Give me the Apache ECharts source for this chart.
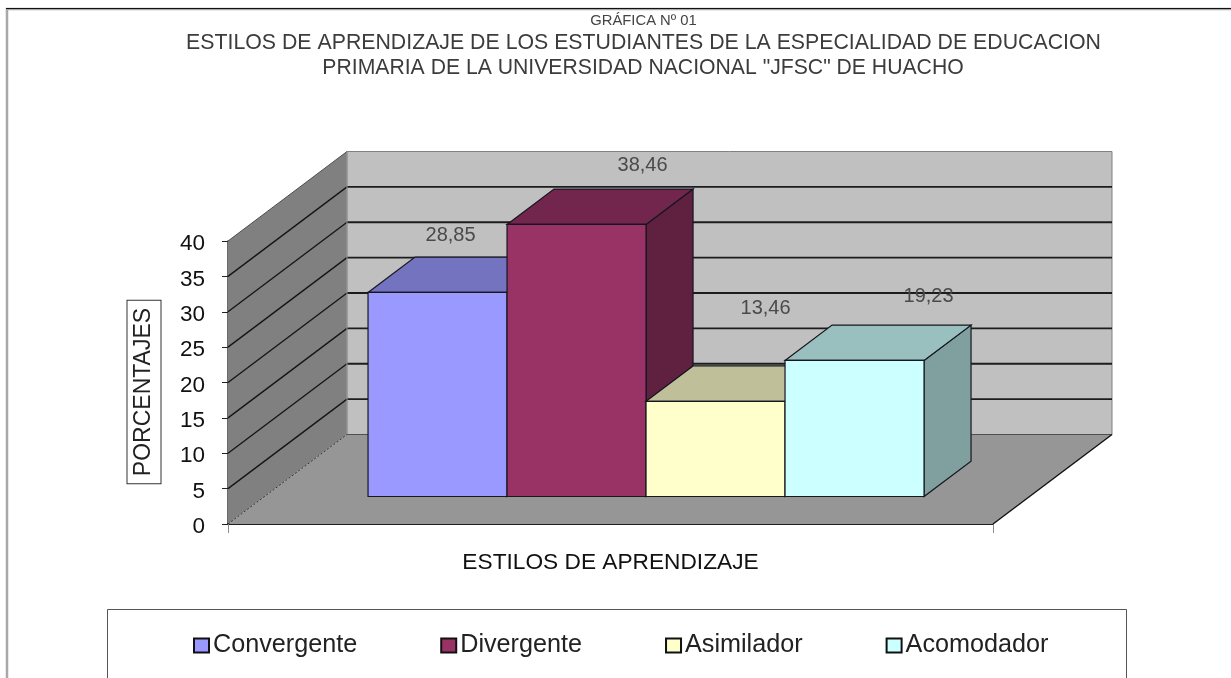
<!DOCTYPE html>
<html lang="es">
<head>
<meta charset="utf-8">
<title>Estilos de aprendizaje</title>
<style>html,body{margin:0;padding:0;background:#fff;overflow:hidden}#chart{width:1231px;height:678px;filter:blur(0.45px)}</style>
<script src="https://cdn.jsdelivr.net/npm/echarts@6/dist/echarts.min.js"></script>
</head>
<body>
<div id="chart"></div>
<script>
const categories = ['Convergente', 'Divergente', 'Asimilador', 'Acomodador'];
const percentages = [28.85, 38.46, 13.46, 19.23];
const frontColors = ['#9999FF', '#993366', '#FFFFCC', '#CCFFFF'];
const topColors = ['#7373BF', '#73264D', '#BFBF99', '#99BFBF'];
const sideColors = ['#606099', '#602040', '#A0A080', '#80A0A0'];
const yTicks = [0, 5, 10, 15, 20, 25, 30, 35, 40];
const titleSmall = 'GRÁFICA Nº 01';
const titleLine1 = 'ESTILOS DE APRENDIZAJE DE LOS ESTUDIANTES DE LA ESPECIALIDAD DE EDUCACION';
const titleLine2 = 'PRIMARIA DE LA UNIVERSIDAD NACIONAL "JFSC" DE HUACHO';
const xName = 'ESTILOS DE APRENDIZAJE';
const yName = 'PORCENTAJES';

// layout of the oblique projection
const FONT = '"Liberation Sans", Arial, sans-serif';
const DEPTH_X = 119, DEPTH_Y = 89.5;       // full floor depth in px
const BAR_START = 0.307, BAR_DEPTH = 0.395; // share of the floor depth
const BAR_SHARE = 0.1817;                   // bar width as share of the band
const BAR_SHIFT = -1;
const LABEL_NUDGE = [[13, -57], [66, -59], [50, -93], [74, -64]];

const chart = echarts.init(document.getElementById('chart'), null, { renderer: 'canvas' });

function poly(points, fill, stroke, lineWidth) {
  return { type: 'polygon', shape: { points }, style: { fill, stroke: stroke || 'none', lineWidth: lineWidth || 0 } };
}
function seg(a, b, stroke, lineWidth, dash) {
  return { type: 'line', shape: { x1: a[0], y1: a[1], x2: b[0], y2: b[1] },
    style: { stroke, lineWidth, lineDash: dash || null, fill: 'none' } };
}

function renderWalls(params, api) {
  const c0 = api.coord([0, 0]);
  const band = api.size([1, 0])[0];
  const L = c0[0] - band / 2, R = c0[0] + band / 2;
  const y = v => api.coord([0, v])[1];
  const back = (x, v) => [x + DEPTH_X, y(v) - DEPTH_Y];
  const kids = [
    poly([[L, y(0)], [L, y(40)], back(L, 40), back(L, 0)], '#808080'),
    poly([back(L, 0), back(L, 40), back(R, 40), back(R, 0)], '#C0C0C0', '#808080', 1),
    poly([[L, y(0)], back(L, 0), back(R, 0), [R, y(0)]], '#969696')
  ];
  yTicks.forEach(v => {
    if (v > 0 && v < 40) {
      kids.push(seg([L, y(v)], back(L, v), '#141414', 1.3));
      kids.push(seg(back(L, v), back(R, v), '#1c1c1c', 1.8));
    }
  });
  kids.push(seg([L, y(40)], back(L, 40), '#505050', 1));
  kids.push(seg(back(L, 40), back(L, 0), '#9a9a9a', 1));
  kids.push(seg([L, y(0)], back(L, 0), '#303030', 1, [2, 2]));
  kids.push(seg(back(L, 0), back(R, 0), '#505050', 1));
  kids.push(seg([R, y(0)], back(R, 0), '#101010', 1.4));
  return { type: 'group', children: kids };
}

function renderBar(i) {
  return function (params, api) {
    const value = api.value(1);
    const c0 = api.coord([0, 0]);
    const band = api.size([1, 0])[0];
    const w = band * BAR_SHARE;
    const groupLeft = c0[0] - w * 2 + DEPTH_X * BAR_START + BAR_SHIFT;
    const lift = DEPTH_Y * BAR_START;
    const x0 = groupLeft + i * w, x1 = x0 + w;
    const yb = c0[1] - lift;
    const yt = api.coord([0, value])[1] - lift;
    const dx = DEPTH_X * BAR_DEPTH, dy = DEPTH_Y * BAR_DEPTH;
    const edge = '#16161e';
    const nudge = LABEL_NUDGE[i];
    return {
      type: 'group',
      children: [
        poly([[x1, yb], [x1, yt], [x1 + dx, yt - dy], [x1 + dx, yb - dy]], sideColors[i], edge, 1.2),
        poly([[x0, yt], [x0 + dx, yt - dy], [x1 + dx, yt - dy], [x1, yt]], topColors[i], edge, 1.2),
        poly([[x0, yb], [x0, yt], [x1, yt], [x1, yb]], frontColors[i], edge, 1.2),
        { type: 'text', z2: 50,
          style: { x: (x0 + x1) / 2 + nudge[0], y: yt + nudge[1], text: String(value).replace('.', ','),
            font: '20px ' + FONT, fill: '#4a4a4a', align: 'center', verticalAlign: 'middle' } }
      ]
    };
  };
}

const barSeries = categories.map((name, i) => ({
  name, type: 'custom', coordinateSystem: 'cartesian2d', clip: false, z: 3 + i,
  itemStyle: { color: frontColors[i], borderColor: '#111', borderWidth: 1.8 },
  data: [[0, percentages[i]]],
  encode: { x: 0, y: 1 },
  renderItem: renderBar(i)
}));

chart.setOption({
  animation: false,
  backgroundColor: '#ffffff',
  textStyle: { fontFamily: FONT },
  title: [
    { text: titleSmall, left: 638.5, top: 8, textAlign: 'center',
      textStyle: { fontSize: 14.8, fontWeight: 'normal', color: '#444', fontFamily: FONT } },
    { text: titleLine1, left: 638.5, top: 28, textAlign: 'center',
      textStyle: { fontSize: 21.3, fontWeight: 'normal', color: '#3c3c3c', fontFamily: FONT } },
    { text: titleLine2, left: 638, top: 52.5, textAlign: 'center',
      textStyle: { fontSize: 21.2, fontWeight: 'normal', color: '#3c3c3c', fontFamily: FONT } }
  ],
  grid: { left: 228, top: 241, width: 765, height: 283, containLabel: false },
  xAxis: {
    type: 'category', data: [''],
    name: xName, nameLocation: 'middle', nameGap: 27,
    nameTextStyle: { fontSize: 22.7, color: '#111', fontFamily: FONT },
    axisLine: { lineStyle: { color: '#1c1c1c', width: 1.8 } },
    axisTick: { show: true, length: 9, lineStyle: { color: '#8c8c8c', width: 1 } },
    axisLabel: { show: false }, splitLine: { show: false }
  },
  yAxis: {
    type: 'value', min: 0, max: 40, interval: 5,
    axisLine: { show: true, lineStyle: { color: '#3a3a3a', width: 1.5 } },
    axisTick: { show: true, length: 6, lineStyle: { color: '#222', width: 1 } },
    axisLabel: { margin: 23, fontSize: 22.5, color: '#111', fontFamily: FONT, verticalAlign: 'top', lineHeight: 6 },
    splitLine: { show: false }
  },
  legend: {
    data: categories, left: 193, top: 633, itemGap: 83, itemWidth: 15, itemHeight: 14,
    icon: 'rect', selectedMode: false, padding: 0,
    textStyle: { fontSize: 25.2, color: '#222', fontFamily: FONT, padding: [0, 0, 0, -1] }
  },
  graphic: [
    { type: 'rect', silent: true, z: 0, shape: { x: 7, y: 9, width: 1300, height: 800 },
      style: { fill: 'none', stroke: '#a8a8a8', lineWidth: 2.5 } },
    { type: 'line', silent: true, z: 1, shape: { x1: 6, y1: 8.5, x2: 1231, y2: 8.5 },
      style: { stroke: '#111', lineWidth: 1.2 } },
    { type: 'rect', silent: true, z: 1, shape: { x: 107.5, y: 609.5, width: 1019, height: 120 },
      style: { fill: '#fff', stroke: '#555', lineWidth: 1 } },
    { type: 'text', silent: true, z: 1, x: 144, y: 392, rotation: Math.PI / 2,
      style: { text: yName, font: '23px ' + FONT, fill: '#222', align: 'center', verticalAlign: 'middle',
        borderColor: '#333', borderWidth: 1, backgroundColor: '#fff', padding: [5, 7, 5, 7] } }
  ],
  series: [
    { name: 'paredes', type: 'custom', coordinateSystem: 'cartesian2d', clip: false, z: 1, silent: true,
      data: [[0, 0]], encode: { x: 0, y: 1 }, renderItem: renderWalls },
    ...barSeries
  ]
});
</script>
</body>
</html>
